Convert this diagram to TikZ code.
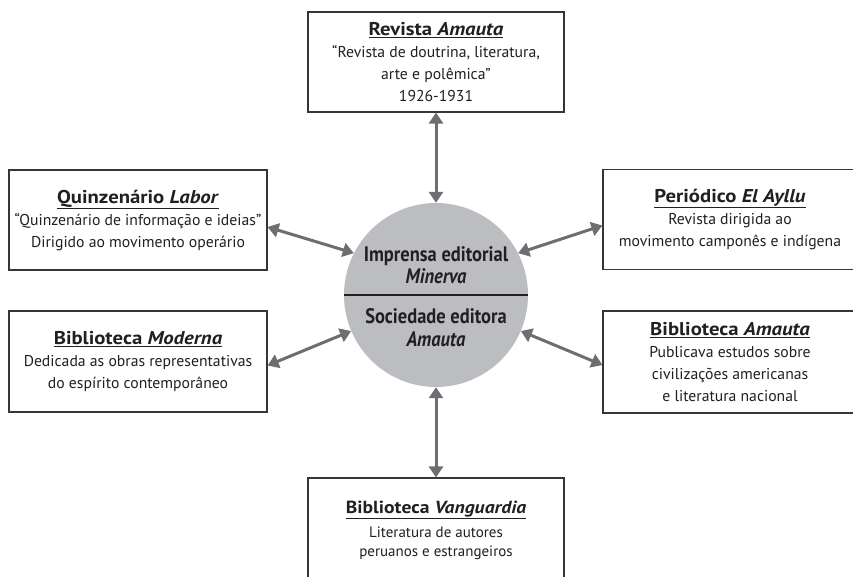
\documentclass[tikz,border=0pt]{standalone}
\usepackage{fontspec}
\setmainfont{PT Sans}
\newfontfamily\ttlfont{PT Sans}[FakeStretch=1.12]
\newfontfamily\hubfont{PT Sans}[FakeStretch=0.88]
\usetikzlibrary{arrows.meta}
\definecolor{arr}{HTML}{6D6E71}
\definecolor{circ}{HTML}{BCBDC0}
\definecolor{ink}{HTML}{231F20}
\newcommand{\ttl}[2]{{\ttlfont\fontsize{18.5}{22}\selectfont\underline{\textbf{#1 \textit{#2}}}}}
\tikzset{
  box/.style={draw=ink!90, line width=1.1pt, fill=white, align=center, text=ink,
    font=\fontsize{15.7}{22}\selectfont, inner sep=0pt},
  arrowline/.style={draw=arr, line width=3pt,
    {Triangle[length=11pt,width=14pt]}-{Triangle[length=11pt,width=14pt]}},
  hubtext/.style={align=center, text=ink, font=\hubfont\fontsize{21}{22}\selectfont\bfseries, inner sep=0pt}
}
\begin{document}
\begin{tikzpicture}[x=1pt,y=-1pt]
\clip (0,0) rectangle (853,576);
\useasboundingbox (0,0) rectangle (853,576);
% hub
\node[circle, fill=circ, minimum size=184pt, inner sep=0pt] (c) at (436,295) {};
\draw[ink, line width=1.8pt] (c.west) -- (c.east);
\node[hubtext, anchor=south] (hubup) at (436,283.5) {Imprensa editorial\\\textit{Minerva}};
\node[hubtext, anchor=north, font=\hubfont\fontsize{21}{23.5}\selectfont\bfseries] (hubdown) at (436,308) {Sociedade editora\\\textit{Amauta}};
% boxes
\node[box, minimum width=256pt, minimum height=100pt] (top) at (436,62)
  {\ttl{Revista}{Amauta}\\“Revista de doutrina, literatura,\\arte e polêmica”\\1926-1931};
\node[box, minimum width=258pt, minimum height=100pt] (labor) at (138,220)
  {\ttl{Quinzenário}{Labor}\\“Quinzenário de informação e ideias”\\Dirigido ao movimento operário};
\node[box, minimum width=258pt, minimum height=101pt] (moderna) at (138,361.5)
  {\ttl{Biblioteca}{Moderna}\\Dedicada as obras representativas\\do espírito contemporâneo};
\node[box, minimum width=254pt, minimum height=100pt] (ayllu) at (730,219.5)
  {\ttl{Periódico}{El Ayllu}\\Revista dirigida ao\\movimento camponês e indígena};
\node[box, minimum width=254pt, minimum height=102pt] (amautab) at (730,362)
  {\ttl{Biblioteca}{Amauta}\\Publicava estudos sobre\\civilizações americanas\\e literatura nacional};
\node[box, minimum width=256pt, minimum height=104pt, font=\fontsize{15}{19}\selectfont] (vang) at (436,530)
  {{\ttlfont\fontsize{17.5}{19}\selectfont\underline{\textbf{Biblioteca \textit{Vanguardia}}}}\\[5pt]Literatura de autores\\peruanos e estrangeiros};
% connectors
\draw[arrowline] (top.south) -- (c.north);
\draw[arrowline] (vang.north) -- (c.south);
\draw[arrowline] ([yshift=-7pt]labor.east) -- (c.153);
\draw[arrowline] ([yshift=-4pt]moderna.east) -- (c.203);
\draw[arrowline] ([yshift=-6pt]ayllu.west) -- (c.27);
\draw[arrowline] ([yshift=-3pt]amautab.west) -- (c.-23);
\end{tikzpicture}
\end{document}
